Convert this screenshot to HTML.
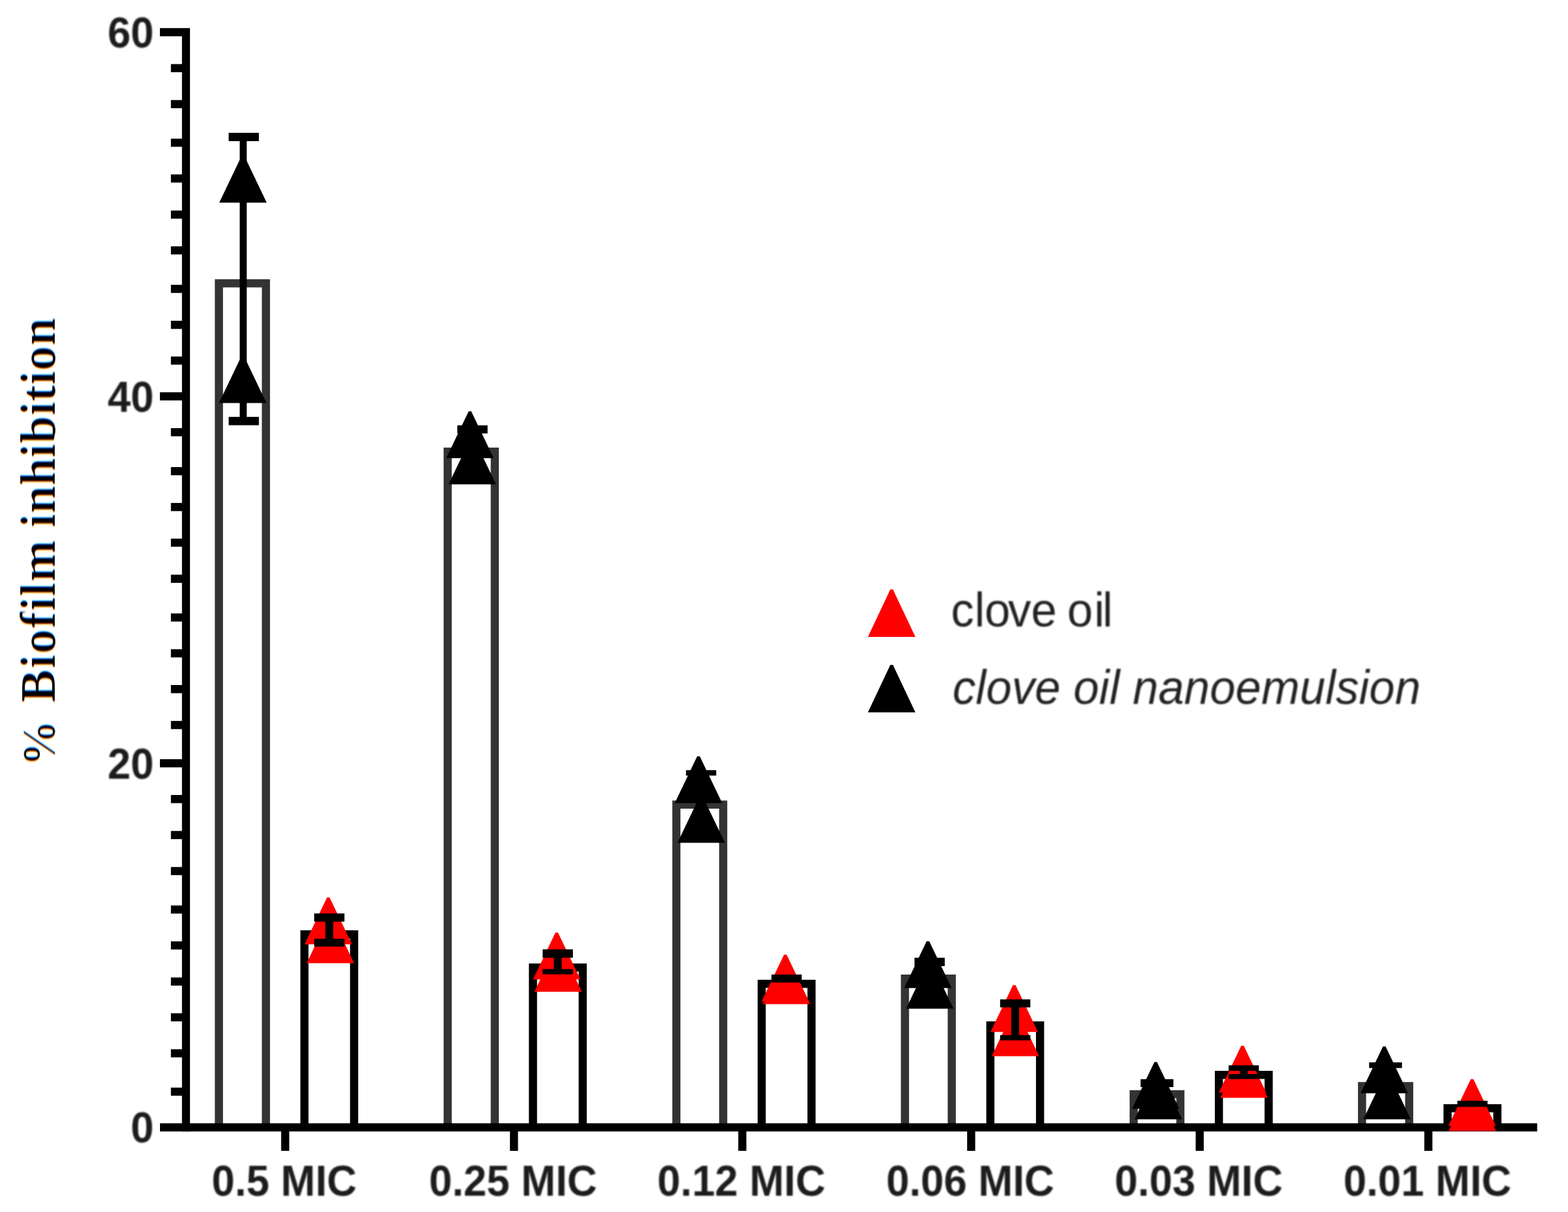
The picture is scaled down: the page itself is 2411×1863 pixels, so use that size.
<!DOCTYPE html>
<html><head><meta charset="utf-8"><title>Biofilm inhibition</title>
<style>
html,body{margin:0;padding:0;background:#fff;}
body{width:2411px;height:1863px;overflow:hidden;}
svg{display:block;}
.b{font-family:"Liberation Sans",Arial,sans-serif;font-weight:bold;font-size:66px;fill:#1e1e1e;}
.l{font-family:"Liberation Sans",Arial,sans-serif;font-size:70.83px;fill:#222;}
.yl{font-family:"Liberation Serif","Times New Roman",serif;font-weight:bold;font-size:77px;fill:#000;}
</style></head><body>
<svg width="2411" height="1863" viewBox="0 0 2411 1863">
<defs>
<filter id="sf" x="-5%" y="-20%" width="110%" height="140%"><feGaussianBlur stdDeviation="1.1"/></filter>
<filter id="sb" x="-5%" y="-20%" width="110%" height="140%"><feGaussianBlur stdDeviation="1.0"/></filter>
<filter id="ct" x="-2%" y="-30%" width="104%" height="160%" color-interpolation-filters="sRGB">
<feMorphology in="SourceAlpha" operator="erode" radius="0.8 0.2" result="e"/>
<feGaussianBlur in="e" stdDeviation="1.2 0.5" result="a"/>
<feOffset in="a" dx="1.4" dy="0" result="o1"/>
<feColorMatrix in="o1" type="matrix" values="0 0 0 0 0  0 0 0 0 1  0 0 0 0 1  0 0 0 1 0" result="c"/>
<feColorMatrix in="a" type="matrix" values="0 0 0 0 1  0 0 0 0 0  0 0 0 0 1  0 0 0 1 0" result="m"/>
<feOffset in="a" dx="-1.4" dy="0" result="o2"/>
<feColorMatrix in="o2" type="matrix" values="0 0 0 0 1  0 0 0 0 1  0 0 0 0 0  0 0 0 1 0" result="y"/>
<feBlend mode="multiply" in="c" in2="m" result="cm"/>
<feBlend mode="multiply" in="cm" in2="y"/>
</filter>
</defs>
<rect width="2411" height="1863" fill="#fff"/>
<path d="M336.6 1727.6 V435.4 H408.9 V1727.6" fill="none" stroke="#333333" stroke-width="12.5"/>
<path d="M468.1 1727.6 V1436.2 H544.5 V1727.6" fill="none" stroke="#000000" stroke-width="12.5"/>
<path d="M688.4 1727.6 V694.2 H760.8 V1727.6" fill="none" stroke="#333333" stroke-width="12.5"/>
<path d="M819.5 1727.6 V1487.2 H896.0 V1727.6" fill="none" stroke="#000000" stroke-width="12.5"/>
<path d="M1040.0 1727.6 V1236.8 H1112.0 V1727.6" fill="none" stroke="#333333" stroke-width="12.5"/>
<path d="M1171.2 1727.6 V1512.2 H1247.8 V1727.6" fill="none" stroke="#000000" stroke-width="12.5"/>
<path d="M1391.5 1727.6 V1504.2 H1463.5 V1727.6" fill="none" stroke="#333333" stroke-width="12.5"/>
<path d="M1522.8 1727.6 V1576.2 H1599.2 V1727.6" fill="none" stroke="#000000" stroke-width="12.5"/>
<path d="M1743.2 1727.6 V1682.0 H1815.0 V1727.6" fill="none" stroke="#333333" stroke-width="12.5"/>
<path d="M1874.2 1727.6 V1652.2 H1950.7 V1727.6" fill="none" stroke="#000000" stroke-width="12.5"/>
<path d="M2094.3 1727.6 V1669.5 H2166.8 V1727.6" fill="none" stroke="#333333" stroke-width="12.5"/>
<path d="M2225.8 1727.6 V1703.5 H2302.4 V1727.6" fill="none" stroke="#000000" stroke-width="12.5"/>
<rect x="279.8" y="43.2" width="12.3" height="1696.0" fill="#000"/>
<rect x="246.0" y="1726.6" width="2117.6" height="12.6" fill="#000"/>
<rect x="245.9" y="43.2" width="34.9" height="12.5" fill="#000"/>
<rect x="245.9" y="603.0" width="34.9" height="12.5" fill="#000"/>
<rect x="245.9" y="1167.0" width="34.9" height="12.5" fill="#000"/>
<rect x="262.8" y="98.5" width="18.0" height="12.5" fill="#000"/>
<rect x="262.8" y="153.8" width="18.0" height="12.5" fill="#000"/>
<rect x="262.8" y="213.1" width="18.0" height="12.5" fill="#000"/>
<rect x="262.8" y="268.1" width="18.0" height="12.5" fill="#000"/>
<rect x="262.8" y="323.6" width="18.0" height="12.5" fill="#000"/>
<rect x="262.8" y="378.6" width="18.0" height="12.5" fill="#000"/>
<rect x="262.8" y="437.8" width="18.0" height="12.5" fill="#000"/>
<rect x="262.8" y="493.1" width="18.0" height="12.5" fill="#000"/>
<rect x="262.8" y="548.0" width="18.0" height="12.5" fill="#000"/>
<rect x="262.8" y="658.1" width="18.0" height="12.5" fill="#000"/>
<rect x="262.8" y="718.0" width="18.0" height="12.5" fill="#000"/>
<rect x="262.8" y="773.1" width="18.0" height="12.5" fill="#000"/>
<rect x="262.8" y="827.9" width="18.0" height="12.5" fill="#000"/>
<rect x="262.8" y="883.4" width="18.0" height="12.5" fill="#000"/>
<rect x="262.8" y="942.9" width="18.0" height="12.5" fill="#000"/>
<rect x="262.8" y="998.0" width="18.0" height="12.5" fill="#000"/>
<rect x="262.8" y="1053.0" width="18.0" height="12.5" fill="#000"/>
<rect x="262.8" y="1108.2" width="18.0" height="12.5" fill="#000"/>
<rect x="262.8" y="1222.0" width="18.0" height="12.5" fill="#000"/>
<rect x="262.8" y="1277.3" width="18.0" height="12.5" fill="#000"/>
<rect x="262.8" y="1332.7" width="18.0" height="12.5" fill="#000"/>
<rect x="262.8" y="1391.8" width="18.0" height="12.5" fill="#000"/>
<rect x="262.8" y="1447.0" width="18.0" height="12.5" fill="#000"/>
<rect x="262.8" y="1502.5" width="18.0" height="12.5" fill="#000"/>
<rect x="262.8" y="1557.5" width="18.0" height="12.5" fill="#000"/>
<rect x="262.8" y="1612.8" width="18.0" height="12.5" fill="#000"/>
<rect x="262.8" y="1671.8" width="18.0" height="12.5" fill="#000"/>
<rect x="432.3" y="1738.2" width="12.4" height="30.8" fill="#000"/>
<rect x="784.1" y="1738.2" width="12.4" height="30.8" fill="#000"/>
<rect x="1135.2" y="1738.2" width="12.4" height="30.8" fill="#000"/>
<rect x="1487.1" y="1738.2" width="12.4" height="30.8" fill="#000"/>
<rect x="1838.5" y="1738.2" width="12.4" height="30.8" fill="#000"/>
<rect x="2190.1" y="1738.2" width="12.4" height="30.8" fill="#000"/>
<polygon points="371.6,239.5 375.6,239.5 410.1,311.5 337.1,311.5" fill="#000000"/>
<polygon points="371.2,547.5 375.2,547.5 409.7,619.5 336.7,619.5" fill="#000000"/>
<rect x="368.6" y="210.0" width="10.8" height="435.0" fill="#000"/><rect x="351.6" y="204.2" width="46.5" height="12.7" fill="#000"/><rect x="351.6" y="640.8" width="46.5" height="12.8" fill="#000"/>
<polygon points="502.8,1379.5 506.8,1379.5 541.3,1451.5 468.3,1451.5" fill="#ff0000"/>
<polygon points="506.0,1408.5 510.0,1408.5 544.5,1480.5 471.5,1480.5" fill="#ff0000"/>
<rect x="500.3" y="1410.0" width="12.0" height="40.0" fill="#000"/><rect x="483.1" y="1404.1" width="46.5" height="12.6" fill="#000"/><rect x="483.1" y="1443.0" width="46.5" height="12.0" fill="#000"/>
<polygon points="720.6,632.3 724.6,632.3 759.1,704.3 686.1,704.3" fill="#000000"/>
<polygon points="724.2,672.5 728.2,672.5 762.7,744.5 689.7,744.5" fill="#000000"/>
<rect x="703.2" y="653.8" width="46.5" height="12.5" fill="#000"/>
<polygon points="854.0,1433.5 858.0,1433.5 892.5,1505.5 819.5,1505.5" fill="#ff0000"/>
<polygon points="856.2,1452.5 860.2,1452.5 894.7,1524.5 821.7,1524.5" fill="#ff0000"/>
<rect x="851.6" y="1465.0" width="12.0" height="30.0" fill="#000"/><rect x="834.4" y="1459.3" width="46.5" height="12.9" fill="#000"/><rect x="834.4" y="1489.6" width="46.5" height="8.0" fill="#000"/>
<polygon points="1072.0,1162.5 1076.0,1162.5 1110.5,1234.5 1037.5,1234.5" fill="#000000"/>
<polygon points="1076.2,1223.5 1080.2,1223.5 1114.7,1295.5 1041.7,1295.5" fill="#000000"/>
<rect x="1054.8" y="1183.8" width="46.5" height="8.4" fill="#000"/>
<polygon points="1205.5,1467.5 1209.5,1467.5 1244.0,1539.5 1171.0,1539.5" fill="#ff0000"/>
<polygon points="1207.2,1471.5 1211.2,1471.5 1245.7,1543.5 1172.7,1543.5" fill="#ff0000"/>
<rect x="1186.2" y="1498.0" width="46.5" height="12.3" fill="#000"/>
<polygon points="1424.8,1446.8 1428.8,1446.8 1463.3,1518.8 1390.3,1518.8" fill="#000000"/>
<polygon points="1427.7,1478.5 1431.7,1478.5 1466.2,1550.5 1393.2,1550.5" fill="#000000"/>
<rect x="1406.2" y="1472.2" width="46.5" height="12.8" fill="#000"/>
<polygon points="1557.5,1514.3 1561.5,1514.3 1596.0,1586.3 1523.0,1586.3" fill="#ff0000"/>
<polygon points="1559.3,1551.5 1563.3,1551.5 1597.8,1623.5 1524.8,1623.5" fill="#ff0000"/>
<rect x="1555.0" y="1542.0" width="12.0" height="53.0" fill="#000"/><rect x="1537.8" y="1536.2" width="46.5" height="12.3" fill="#000"/><rect x="1537.8" y="1591.1" width="46.5" height="8.1" fill="#000"/>
<polygon points="1775.0,1632.5 1779.0,1632.5 1813.5,1704.5 1740.5,1704.5" fill="#000000"/>
<polygon points="1779.1,1648.5 1783.1,1648.5 1817.6,1720.5 1744.6,1720.5" fill="#000000"/>
<rect x="1753.8" y="1658.8" width="50.5" height="12.2" fill="#000"/>
<polygon points="1908.5,1607.5 1912.5,1607.5 1947.0,1679.5 1874.0,1679.5" fill="#ff0000"/>
<polygon points="1910.8,1615.5 1914.8,1615.5 1949.3,1687.5 1876.3,1687.5" fill="#ff0000"/>
<rect x="1906.5" y="1640.0" width="12.0" height="15.0" fill="#000"/><rect x="1889.2" y="1637.5" width="46.5" height="8.5" fill="#000"/><rect x="1889.2" y="1651.0" width="46.5" height="7.6" fill="#000"/>
<polygon points="2126.5,1608.5 2130.5,1608.5 2165.0,1680.5 2092.0,1680.5" fill="#000000"/>
<polygon points="2130.8,1648.5 2134.8,1648.5 2169.3,1720.5 2096.3,1720.5" fill="#000000"/>
<rect x="2105.2" y="1633.0" width="50.5" height="8.7" fill="#000"/>
<polygon points="2261.5,1658.8 2265.5,1658.8 2300.0,1730.8 2227.0,1730.8" fill="#ff0000"/>
<polygon points="2262.0,1666.5 2266.0,1666.5 2300.5,1738.5 2227.5,1738.5" fill="#ff0000"/>
<rect x="2240.8" y="1692.0" width="46.5" height="9.4" fill="#000"/>
<polygon points="1369.0,906.0 1373.0,906.0 1407.5,979.0 1334.5,979.0" fill="#ff0000"/>
<polygon points="1369.0,1022.0 1373.0,1022.0 1407.5,1095.0 1334.5,1095.0" fill="#000000"/>
<text transform="translate(236.4,73.1) scale(0.965,1)" text-anchor="end" class="b" filter="url(#sb)">60</text>
<text transform="translate(236.4,632.9) scale(0.965,1)" text-anchor="end" class="b" filter="url(#sb)">40</text>
<text transform="translate(236.4,1196.8) scale(0.965,1)" text-anchor="end" class="b" filter="url(#sb)">20</text>
<text transform="translate(236.4,1756.3) scale(0.965,1)" text-anchor="end" class="b" filter="url(#sb)">0</text>
<text transform="translate(437.1,1837.8) scale(0.965,1)" text-anchor="middle" class="b" filter="url(#sb)">0.5 MIC</text>
<text transform="translate(788.9,1837.8) scale(0.965,1)" text-anchor="middle" class="b" filter="url(#sb)">0.25 MIC</text>
<text transform="translate(1140.0,1837.8) scale(0.965,1)" text-anchor="middle" class="b" filter="url(#sb)">0.12 MIC</text>
<text transform="translate(1491.9,1837.8) scale(0.965,1)" text-anchor="middle" class="b" filter="url(#sb)">0.06 MIC</text>
<text transform="translate(1843.3,1837.8) scale(0.965,1)" text-anchor="middle" class="b" filter="url(#sb)">0.03 MIC</text>
<text transform="translate(2194.9,1837.8) scale(0.965,1)" text-anchor="middle" class="b" filter="url(#sb)">0.01 MIC</text>
<text transform="translate(0,962.7) scale(1,1.05)" x="1462.3 1498.5 1514 1549.9 1585.6 1625 1641.1 1682.4 1695.2" y="0" class="l" filter="url(#sf)">clove oil</text>
<text transform="translate(0,1081.8) scale(1,1.05)" x="1464.7" y="0" class="l" filter="url(#sf)" font-style="italic" textLength="719.6" lengthAdjust="spacing">clove oil nanoemulsion</text>
<text transform="translate(84.2,0) rotate(-90)" class="yl" xml:space="preserve" filter="url(#ct)"><tspan x="-1178" font-size="71">% </tspan><tspan x="-1080.2" letter-spacing="1">Biofilm </tspan><tspan x="-811.2" letter-spacing="0.17">inhibition</tspan></text>
</svg>
</body></html>
